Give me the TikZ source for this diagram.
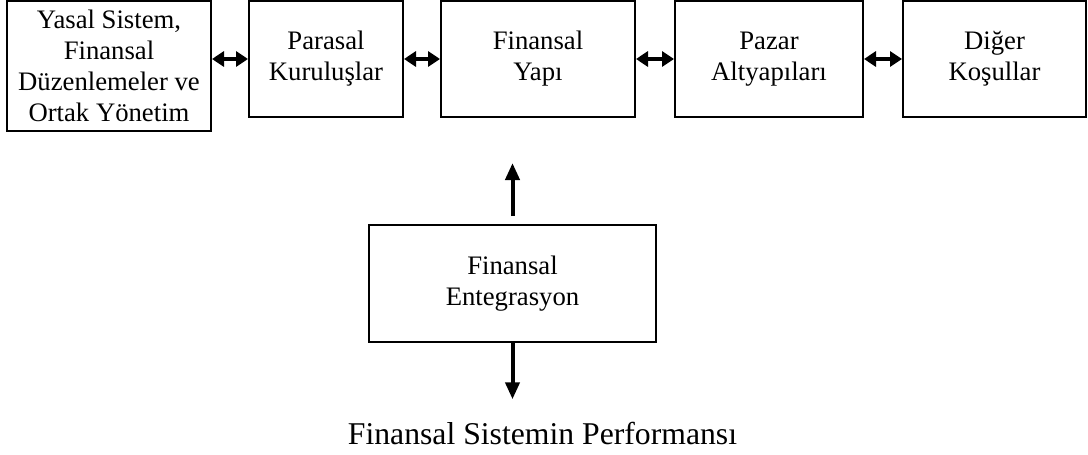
\documentclass[tikz,border=0pt]{standalone}
\usepackage{fontspec}
\setmainfont{Liberation Serif}
\usetikzlibrary{arrows.meta}
\begin{document}
\begin{tikzpicture}[x=0.5pt,y=-0.5pt,
  box/.style={draw, line width=1pt, align=center, inner sep=0pt,
    font=\fontsize{13.35}{15.5}\selectfont},
  dbl/.style={line width=2pt, {Triangle[length=6pt,width=7.5pt]}-{Triangle[length=6pt,width=7.5pt]}},
  arr/.style={line width=2pt, -{Triangle[length=8.5pt,width=7pt]}}]
\useasboundingbox (0,0) rectangle (1088,455);
\node[box, minimum width=102pt, minimum height=65pt] (b1) at (109,66)
  {Yasal Sistem,\\Finansal\\Düzenlemeler ve\\Ortak Yönetim};
\node[box, minimum width=77pt, minimum height=58pt] (b2) at (326,59)
  {Parasal\\Kuruluşlar};
\node[box, minimum width=97pt, minimum height=58pt] (b3) at (538,59)
  {Finansal\\Yapı};
\node[box, minimum width=94pt, minimum height=58pt] (b4) at (769,59)
  {Pazar\\Altyapıları};
\node[box, minimum width=91.5pt, minimum height=58pt] (b5) at (994.5,59)
  {Diğer\\Koşullar};
\node[box, minimum width=143.5pt, minimum height=58.5pt] (e) at (512.5,283.5)
  {Finansal\\Entegrasyon};
\node[anchor=base, inner sep=0pt, font=\fontsize{15.85}{18}\selectfont] (perf) at (542.5,444)
  {Finansal Sistemin Performansı};
\coordinate (upTip) at (512.5,163);
\draw[dbl] (b1.east |- b2.west) -- (b2.west);
\draw[dbl] (b2.east) -- (b3.west);
\draw[dbl] (b3.east) -- (b4.west);
\draw[dbl] (b4.east) -- (b5.west);
\draw[arr] ([yshift=4pt]e.north) -- (upTip);
\draw[arr] (e.south) -- ([yshift=11pt]e.south |- perf.north);
\end{tikzpicture}
\end{document}
